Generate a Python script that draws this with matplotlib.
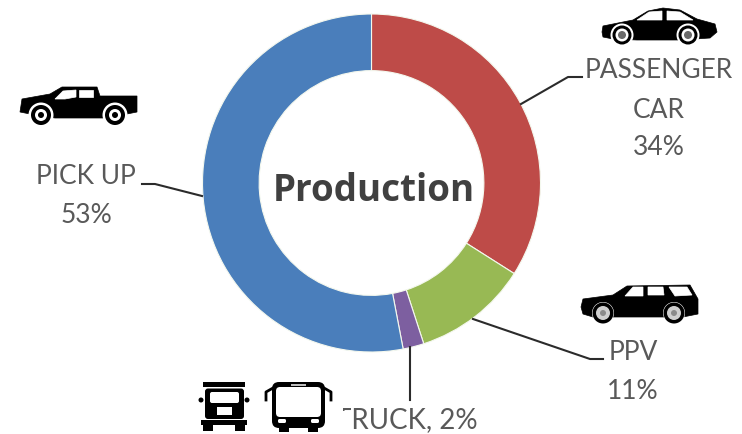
import matplotlib.pyplot as plt
from matplotlib.patches import Circle, FancyBboxPatch, Polygon, Rectangle

segments = ["PASSENGER CAR", "PPV", "TRUCK", "PICK UP"]
shares = [34, 11, 2, 53]
colors = ["#BE4B48", "#98B954", "#7D5FA0", "#4A7EBB"]
center_title = "Production"

W, H = 742, 435
plt.rcParams['font.family'] = ['Lato', 'DejaVu Sans']

fig = plt.figure(figsize=(W / 100, H / 100), dpi=100)

# ring, in a square axes placed by pixel
cx, cy, r = 371.5, 184, 169
ax = fig.add_axes([(cx - r) / W, 1 - (cy + r) / H, 2 * r / W, 2 * r / H])
ax.pie(shares, colors=colors, startangle=90, counterclock=False, radius=1,
       wedgeprops=dict(width=0.335, edgecolor="#f4f8ee", linewidth=0.8))
ax.set_xlim(-1, 1)
ax.set_ylim(-1, 1)

# overlay in pixel coordinates, y going down
ov = fig.add_axes([0, 0, 1, 1], zorder=5)
ov.set_xlim(0, W)
ov.set_ylim(H, 0)
ov.axis("off")
ov.patch.set_alpha(0)


def poly(pts, c="black", z=6):
    ov.add_patch(Polygon(pts, closed=True, fc=c, ec=c, lw=0.5, zorder=z))


def wheel(x, y, gap=12.5, tyre=10, rim=6, hub=3, rim_c="white", hub_c="black"):
    ov.add_patch(Circle((x, y), gap, fc="white", ec="none", zorder=7))
    ov.add_patch(Circle((x, y), tyre, fc="black", ec="none", zorder=7))
    ov.add_patch(Circle((x, y), rim, fc=rim_c, ec="none", zorder=7))
    ov.add_patch(Circle((x, y), hub, fc=hub_c, ec="none", zorder=7))


def box(x0, y0, x1, y1, c="black", z=6, rad=0):
    if rad:
        ov.add_patch(FancyBboxPatch((x0 + rad, y0 + rad), x1 - x0 - 2 * rad, y1 - y0 - 2 * rad,
                                    boxstyle=f"round,pad={rad}", fc=c, ec="none", zorder=z))
    else:
        ov.add_patch(Rectangle((x0, y0), x1 - x0, y1 - y0, fc=c, ec="none", zorder=z))


def label(x, y, s, size=19):
    ov.text(x, y, s, ha="center", va="center", fontsize=size, color="#595959", zorder=4)


# leader lines
leaders = [
    [(142, 185), (155, 185), (202, 197)],
    [(582, 78), (568, 78), (521, 105)],
    [(603, 360), (590, 360), (473, 320)],
    [(410, 348), (410, 401)],
]
for pts in leaders:
    ov.plot(*zip(*pts), color="#2b2b2b", lw=1.5, solid_joinstyle="round")

# labels
ov.text(373.5, 191, center_title, ha="center", va="center", fontsize=26.5, fontweight="bold",
        color="#404040", family=["Open Sans", "DejaVu Sans"])
label(86, 177, "PICK UP")
label(86, 216, "53%")
label(659, 70, "PASSENGER")
label(659, 110, "CAR")
label(659, 148, "34%")
label(633, 353, "PPV")
label(633, 392, "11%")
label(406, 420.5, "TRUCK, 2%", size=20)

# the icons' white backing covers most of the T
box(332, 405, 343, 435, "white", z=5)
box(343, 412, 349.5, 435, "white", z=5)

# pickup
poly([(20, 113), (22, 100), (50, 95), (62, 88), (97, 88), (100, 97), (137, 97), (137, 113),
      (127, 115), (103, 119), (55, 119), (30, 115)])
poly([(55, 100), (63, 92), (76, 91), (76, 98), (65, 100)], "white")
poly([(79, 91), (93, 91), (93, 98), (79, 98)], "white")
wheel(41, 116)
wheel(115, 116)

# passenger car
poly([(602, 33), (603, 27), (633, 21), (648, 12), (663, 9), (680, 11), (697, 20), (715, 25),
      (717, 33), (710, 39), (680, 41), (637, 41), (613, 40), (603, 38)])
poly([(637, 21), (649, 13), (662, 12), (662, 21)], "white")
poly([(667, 12), (680, 13), (693, 21), (667, 21)], "white")
wheel(622, 36, gap=11.5, tyre=9.5, rim=6.5, hub=4, hub_c="#6a6a6a")
wheel(688, 36, gap=11.5, tyre=9.5, rim=6.5, hub=4, hub_c="#6a6a6a")

# PPV
poly([(581, 308), (583, 300), (613, 296), (627, 287), (690, 286), (698, 300), (698, 315),
      (683, 318), (593, 318), (583, 315)])
poly([(625, 297), (633, 288), (643, 288), (643, 297)], "white")
poly([(648, 288), (663, 288), (664, 296), (648, 296)], "white")
poly([(669, 288), (687, 288), (692, 296), (675, 297)], "white")
wheel(603, 314, gap=11, tyre=10.5, rim=7, hub=3, rim_c="#cfcfcf", hub_c="#8a8a8a")
wheel(674, 314, gap=11, tyre=10.5, rim=7, hub=3, rim_c="#cfcfcf", hub_c="#8a8a8a")

# truck, front view
box(203, 383, 245, 388)
box(205, 389.5, 244, 420, rad=3)
box(210, 393, 239, 404, "white", rad=2)
box(217, 408, 232, 416, "white")
ov.add_patch(Circle((201, 401), 2.5, fc="black", ec="none", zorder=6))
ov.add_patch(Circle((247, 401), 2.5, fc="black", ec="none", zorder=6))
box(201, 421, 247, 426)
box(203, 426, 213, 432)
box(235, 426, 245, 432)

# bus, front view
box(272, 383, 325, 429, rad=7)
box(276, 388, 321, 418, "white", rad=4)
box(279, 429, 289, 433)
box(308, 429, 318, 433)
box(291, 384.5, 306, 387, "#bdbdbd")
ov.plot([273, 266, 266], [389, 393, 401], color="black", lw=2, zorder=6)
ov.plot([324, 331, 331], [389, 393, 401], color="black", lw=2, zorder=6)
box(278, 420, 286, 424, "white", rad=1.5, z=7)
box(311, 420, 319, 424, "white", rad=1.5, z=7)

fig.savefig("out.png", dpi=100, facecolor="white")
